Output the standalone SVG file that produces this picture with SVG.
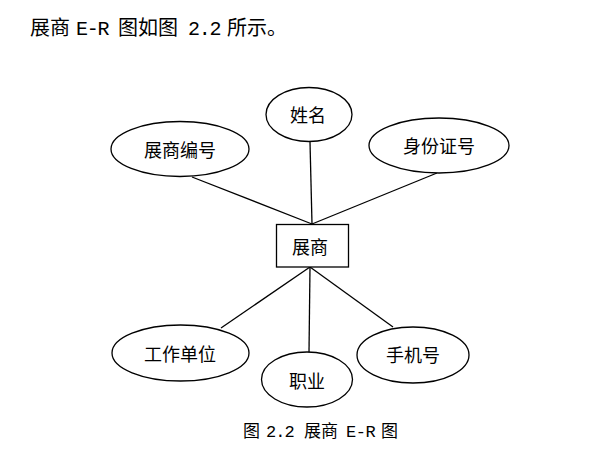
<svg xmlns="http://www.w3.org/2000/svg" width="592" height="453" viewBox="0 0 592 453">
<style>
.shape{fill:#fff;stroke:#000;stroke-width:1.3}
.conn line{stroke:#000;stroke-width:1.3}
.lbl{font-family:"Noto Sans CJK SC","Liberation Sans",sans-serif;font-size:18px;fill:#000;text-anchor:middle;dominant-baseline:central}
.cjk{font-family:"Noto Sans CJK SC",sans-serif;fill:#000}
.lat{font-family:"Liberation Mono","Noto Sans CJK SC",monospace;fill:#000}
</style>
<rect width="592" height="453" fill="#fff"/>
<g id="title" font-size="20">
<text class="cjk" x="30" y="35">展商</text>
<text class="lat" x="76" y="35" letter-spacing="-1.3">E-R</text>
<text class="cjk" x="118" y="35">图如图</text>
<text class="lat" x="188" y="35" letter-spacing="-1.3">2.2</text>
<text class="cjk" x="227" y="35">所示。</text>
</g>
<g class="conn">
<line x1="192" y1="177" x2="312" y2="224"/>
<line x1="310" y1="142" x2="312" y2="224"/>
<line x1="437" y1="173" x2="312" y2="224"/>
<line x1="310" y1="267" x2="221" y2="328"/>
<line x1="310" y1="267" x2="309" y2="352"/>
<line x1="310" y1="267" x2="393" y2="327"/>
</g>
<g id="entity"><rect class="shape" x="276.5" y="224.5" width="72" height="42.5"/><text class="lbl" x="310" y="246">展商</text></g>
<g id="attr-id"><ellipse class="shape" cx="180" cy="149" rx="69" ry="27.5"/><text class="lbl" x="180" y="149">展商编号</text></g>
<g id="attr-name"><ellipse class="shape" cx="309" cy="114.5" rx="43" ry="27"/><text class="lbl" x="308" y="114">姓名</text></g>
<g id="attr-idcard"><ellipse class="shape" cx="439" cy="145.5" rx="70" ry="27.5"/><text class="lbl" x="439" y="145">身份证号</text></g>
<g id="attr-work"><ellipse class="shape" cx="180.5" cy="353" rx="68.5" ry="28"/><text class="lbl" x="180" y="353">工作单位</text></g>
<g id="attr-job"><ellipse class="shape" cx="307" cy="379.5" rx="45.5" ry="27.5"/><text class="lbl" x="307" y="380">职业</text></g>
<g id="attr-phone"><ellipse class="shape" cx="413" cy="355" rx="56" ry="28"/><text class="lbl" x="413" y="354">手机号</text></g>
<g id="caption" font-size="17">
<text class="cjk" x="243" y="437">图</text>
<text class="lat" x="266" y="437" letter-spacing="-1">2.2</text>
<text class="cjk" x="304" y="437">展商</text>
<text class="lat" x="346" y="437" letter-spacing="-0.5">E-R</text>
<text class="cjk" x="381" y="437">图</text>
</g>
</svg>
